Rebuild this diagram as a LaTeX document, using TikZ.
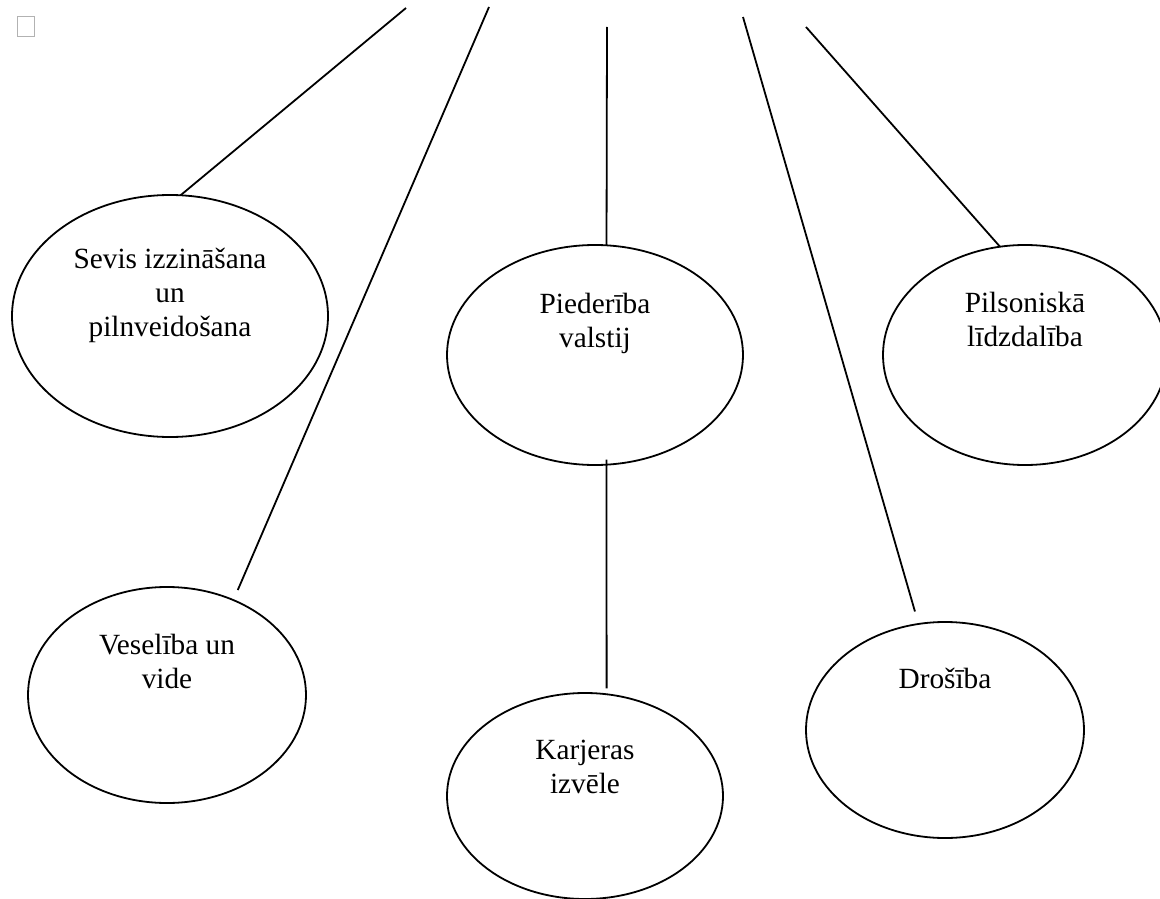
\documentclass[tikz,border=0pt]{standalone}
\usepackage{fontspec}
\setmainfont{Liberation Serif}
\usetikzlibrary{shapes.geometric,positioning}
\tikzset{
    topic/.style 2 args ={
        shape=ellipse,
        draw=black,
        line width=1.8pt,
        inner sep=0pt,
        outer sep=0pt,
        minimum width=#1,
        minimum height=#2
    },
    lbl/.style ={
        align=center,
        inner sep=0pt,
        font=\fontsize{29.3}{34}\selectfont
    },
    link/.style ={
        draw=black,
        line width=1.8pt
    }
}

\begin{document}
\begin{tikzpicture}[x=1pt,y=-1pt]
    \useasboundingbox (0,0) rectangle (1160,899);
    \node[draw=gray!60, line width=0.6pt, inner sep=0pt,
          minimum width=17pt, minimum height=20pt] (box) at (25.5,26) {};
    % ellipses
    \node[topic={316pt}{242pt}] (sevis) at (170,316) {};
    \node[topic={278pt}{216pt}] (vesel) at (167,695) {};
    \node[topic={296pt}{220pt}] (pied) at (595,355) {};
    \node[topic={276pt}{206pt}] (karj) at (585,796) {};
    \node[topic={284pt}{220pt}] (pils) at (1025,355) {};
    \node[topic={278pt}{216pt}] (dros) at (945,730) {};
    % texts (base = last line)
    \node[lbl, below=141pt of sevis.north, anchor=base] {Sevis izzināšana\\un\\pilnveidošana};
    \node[lbl, below=101pt of vesel.north, anchor=base] {Veselība un\\vide};
    \node[lbl, below=102pt of pied.north, anchor=base] {Piederība\\valstij};
    \node[lbl, below=100pt of karj.north, anchor=base] {Karjeras\\izvēle};
    \node[lbl, below=101pt of pils.north, anchor=base] {Pilsoniskā\\līdzdalība};
    \node[lbl, below=66pt of dros.north, anchor=base] {Drošība};
    % free ends at the top
    \coordinate (t1) at (406,8);
    \coordinate (t2) at (489,7);
    \coordinate (t3) at (607,27);
    \coordinate (t5) at (743,17);
    \coordinate (t6) at (806,27);
    \draw[link] (t1) -- (sevis.85);
    \draw[link, shorten >=11pt] (t2) -- (vesel.55);
    \draw[link] (t3) -- (pied.84);
    \draw[link, shorten <=-5pt, shorten >=6pt] (pied.-84) -- (karj.78);
    \draw[link, shorten >=13pt] (t5) -- (dros.104);
    \draw[link] (t6) -- (pils.103);
\end{tikzpicture}
\end{document}
